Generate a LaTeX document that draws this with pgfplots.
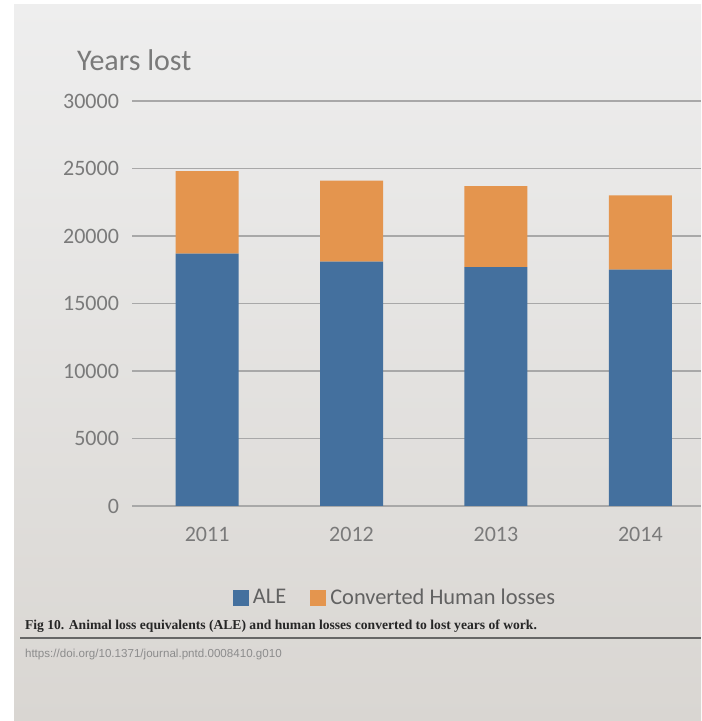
\documentclass[border=0pt]{standalone}
\usepackage{pgfplots}
\pgfplotsset{compat=1.18}
\usepackage{fontspec}
\setmainfont{Carlito}
\newfontfamily\capfont{Liberation Serif}
\newfontfamily\urlfont{Liberation Sans}
\definecolor{aleblue}{HTML}{44709E}
\definecolor{humorange}{HTML}{E4954E}
\definecolor{tickgray}{HTML}{7A7A7A}
\definecolor{gridgray}{HTML}{A8A8A8}
\definecolor{bgtop}{HTML}{EEEEEE}
\definecolor{bgbot}{HTML}{D9D6D2}
\begin{document}
\begin{tikzpicture}[x=1pt,y=1pt]
\useasboundingbox (0,0) rectangle (350.5,360.5);
\shade[top color=bgtop,bottom color=bgbot] (7,0) rectangle (350.5,358);
\node[anchor=west,text=tickgray,font=\fontsize{15}{18}\selectfont] at (35,330.5) {Years lost};
\begin{axis}[
  at={(66pt,107.5pt)}, anchor=south west,
  width=284.5pt, height=202.5pt, scale only axis,
  ybar stacked, bar width=31.5pt,
  xmin=-0.52, xmax=3.42, ymin=0, ymax=30000,
  xtick={0,1,2,3}, xticklabels={2011,2012,2013,2014},
  ytick={0,5000,10000,15000,20000,25000,30000},
  /pgf/number format/assume math mode=true,
  scaled y ticks=false,
  yticklabel={\pgfmathprintnumber[fixed,1000 sep={}]{\tick}},
  ymajorgrids, grid style={gridgray,line width=0.6pt},
  axis x line*=bottom, axis y line*=left,
  x axis line style={gridgray,line width=0.6pt},
  y axis line style={draw=none},
  major tick length=0pt,
  tick label style={text=tickgray},
  yticklabel style={font=\fontsize{11}{13}\selectfont, xshift=-3pt},
  xticklabel style={font=\fontsize{11}{13}\selectfont, yshift=-7pt},
  legend style={at={(0.464,-0.227)}, anchor=center, draw=none, fill=none,
    font=\fontsize{11.2}{14}\selectfont, text=tickgray!80!black,
    /tikz/every even column/.append style={column sep=10pt}},
  legend columns=2,
  legend image code/.code={\fill[#1] (0pt,-4pt) rectangle (8pt,4pt);},
]
\addplot[fill=aleblue,draw=none] coordinates {(0,18700) (1,18100) (2,17700) (3,17500)};
\addplot[fill=humorange,draw=none] coordinates {(0,6100) (1,6000) (2,6000) (3,5500)};
\legend{ALE, Converted Human losses}
\end{axis}
\node[anchor=west,font=\capfont\bfseries\fontsize{6.8}{9}\selectfont,text=black!85] at (9,47.5) {Fig 10. Animal loss equivalents (ALE) and human losses converted to lost years of work.};
\draw[black!60,line width=0.6pt] (10,41.5) -- (350.5,41.5);
\node[anchor=west,font=\urlfont\fontsize{5.8}{7}\selectfont,text=black!45] at (9,33) {https://doi.org/10.1371/journal.pntd.0008410.g010};
\end{tikzpicture}
\end{document}
